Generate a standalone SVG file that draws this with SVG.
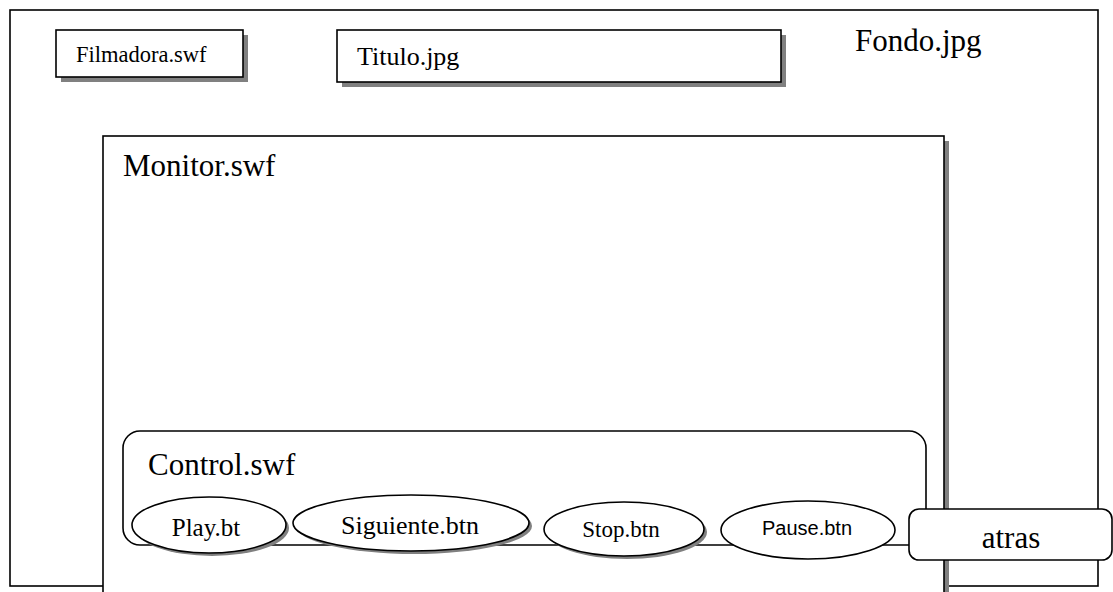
<svg xmlns="http://www.w3.org/2000/svg" width="1113" height="592" viewBox="0 0 1113 592">
  <style>
    .box { fill: #fff; stroke: #000; stroke-width: 1.6; }
    .shadow { fill: #808080; stroke: none; }
    .serif { font-family: "Liberation Serif", "Times New Roman", serif; fill: #000; }
    .sans { font-family: "Liberation Sans", Arial, sans-serif; fill: #000; }
  </style>
  <rect width="1113" height="592" fill="#fff"/>

  <!-- background frame -->
  <g id="fondo">
    <rect class="box" x="10" y="10" width="1088" height="576"/>
    <text class="serif" x="855" y="51" font-size="31">Fondo.jpg</text>
  </g>

  <g id="filmadora">
    <rect class="shadow" x="61" y="35" width="187" height="47"/>
    <rect class="box" x="56" y="30" width="187" height="47"/>
    <text class="serif" x="76" y="62" font-size="22.5">Filmadora.swf</text>
  </g>

  <g id="titulo">
    <rect class="shadow" x="342" y="35" width="444" height="52"/>
    <rect class="box" x="337" y="30" width="444" height="52"/>
    <text class="serif" x="357" y="65" font-size="26">Titulo.jpg</text>
  </g>

  <g id="monitor">
    <rect class="shadow" x="108" y="141" width="841" height="460"/>
    <rect class="box" x="103" y="136" width="841" height="470"/>
    <text class="serif" x="123" y="176" font-size="31">Monitor.swf</text>
  </g>

  <g id="control">
    <rect class="box" x="123" y="431" width="803" height="114" rx="17" ry="17"/>
    <text class="serif" x="148" y="475" font-size="31">Control.swf</text>
  </g>

  <!-- buttons sit on the bottom edge of the control panel -->
  <g id="play">
    <ellipse class="shadow" cx="212" cy="528" rx="77" ry="28"/>
    <ellipse class="box" cx="209" cy="525" rx="77" ry="28"/>
    <text class="serif" x="206" y="536" font-size="25" text-anchor="middle">Play.bt</text>
  </g>

  <g id="siguiente">
    <ellipse class="shadow" cx="414" cy="526" rx="118" ry="28"/>
    <ellipse class="box" cx="411" cy="523" rx="118" ry="28"/>
    <text class="serif" x="410" y="534" font-size="26" text-anchor="middle">Siguiente.btn</text>
  </g>

  <g id="stop">
    <ellipse class="shadow" cx="627" cy="532" rx="80" ry="27"/>
    <ellipse class="box" cx="624" cy="529" rx="80" ry="27"/>
    <text class="serif" x="621" y="537" font-size="23" text-anchor="middle">Stop.btn</text>
  </g>

  <g id="pause">
    <ellipse class="box" cx="808" cy="530" rx="87" ry="29"/>
    <text class="sans" x="807" y="535" font-size="20" text-anchor="middle">Pause.btn</text>
  </g>

  <g id="atras">
    <rect class="box" x="909" y="509" width="203" height="51" rx="10" ry="10"/>
    <text class="serif" x="1011" y="548" font-size="31" text-anchor="middle">atras</text>
  </g>

  <g id="connectors"></g>
</svg>
